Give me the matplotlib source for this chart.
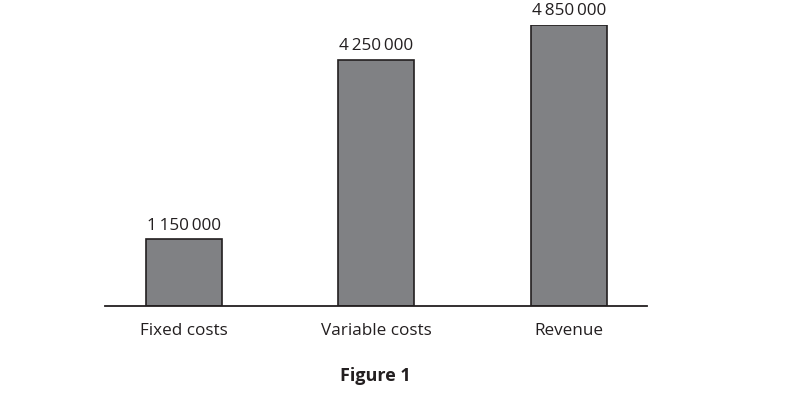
import matplotlib
matplotlib.use('Agg')
import matplotlib.pyplot as plt

# --- Data ---
categories = ['Fixed costs', 'Variable costs', 'Revenue']
values = [1150000, 4250000, 4850000]
value_labels = ['1\u2009150\u2009000', '4\u2009250\u2009000', '4\u2009850\u2009000']

plt.rcParams['font.family'] = ['Open Sans', 'DejaVu Sans']

fig = plt.figure(figsize=(7.91, 3.95), dpi=100)
ax = fig.add_axes([105 / 791, 89 / 395, 542 / 791, 281 / 395])

x = range(len(categories))
ax.bar(x, values, width=0.396, color='#808184', edgecolor='#231f20', linewidth=1.2)

for xi, v, lab in zip(x, values, value_labels):
    ax.annotate(lab, (xi, v), xytext=(0, 4), textcoords='offset points',
                ha='center', va='bottom', fontsize=12.3, color='#231f20')

ax.set_xlim(-0.409, 2.406)
ax.set_ylim(0, 4850000)
ax.set_xticks(list(x))
ax.set_xticklabels(categories, fontsize=12.3, color='#231f20')
ax.tick_params(axis='x', length=0, pad=12.5)
ax.set_yticks([])
for s in ['left', 'right', 'top']:
    ax.spines[s].set_visible(False)
ax.spines['bottom'].set_linewidth(1.3)
ax.spines['bottom'].set_color('#231f20')

fig.text(375 / 791, 1 - 376 / 395, 'Figure 1', ha='center', va='center',
         fontsize=13, fontweight='bold', color='#231f20')

plt.savefig('out.png', dpi=100)
plt.close()
